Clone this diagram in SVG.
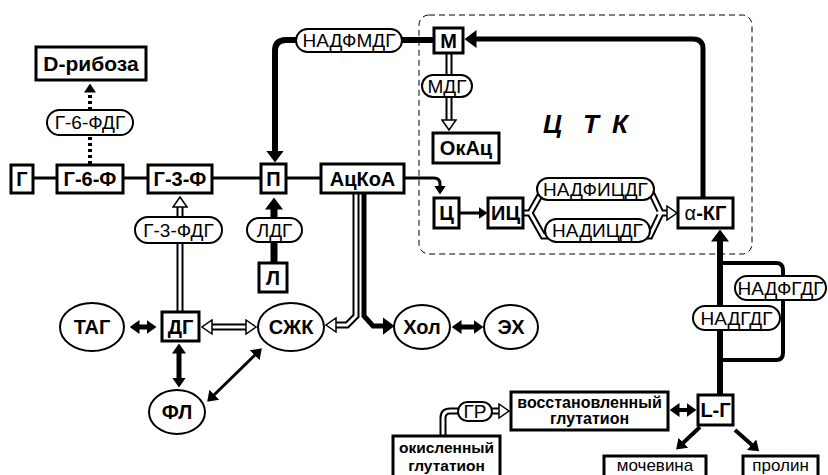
<svg xmlns="http://www.w3.org/2000/svg" width="828" height="475" viewBox="0 0 828 475">
<style>
.box{fill:#fff;stroke:#000;stroke-width:3}
.pill{fill:#fff;stroke:#000;stroke-width:2}
.ell{fill:#fff;stroke:#000;stroke-width:2}
.tb{font-family:"Liberation Sans",Arial,sans-serif;font-weight:bold;font-size:20px;text-anchor:middle;fill:#000}
.tr{font-family:"Liberation Sans",Arial,sans-serif;font-size:19px;text-anchor:middle;fill:#000}
.tq{font-family:"Liberation Sans",Arial,sans-serif;font-size:17px;text-anchor:middle;fill:#000}
.ts{font-family:"Liberation Sans",Arial,sans-serif;font-weight:bold;font-size:16px;text-anchor:middle;fill:#000}
.ln{fill:none;stroke:#000}
.dblo{fill:none;stroke:#000;stroke-width:7}
.dbli{fill:none;stroke:#fff;stroke-width:3}
.dash{fill:none;stroke:#000;stroke-width:1;stroke-dasharray:6 4}
</style>
<defs>
<marker id="big" markerUnits="userSpaceOnUse" viewBox="0 0 12 18" markerWidth="12" markerHeight="18" refX="0.5" refY="9" orient="auto-start-reverse"><path d="M0,0 L12,9 L0,18 z" fill="#000"/></marker>
<marker id="md" markerUnits="userSpaceOnUse" viewBox="0 0 10 14" markerWidth="10" markerHeight="14" refX="0.5" refY="7" orient="auto-start-reverse"><path d="M0,0 L10,7 L0,14 z" fill="#000"/></marker>
<marker id="sm" markerUnits="userSpaceOnUse" viewBox="0 0 9 12" markerWidth="9" markerHeight="12" refX="0.5" refY="6" orient="auto-start-reverse"><path d="M0,0 L9,6 L0,12 z" fill="#000"/></marker>
<marker id="open" markerUnits="userSpaceOnUse" viewBox="0 0 12 16" markerWidth="12" markerHeight="16" refX="1" refY="8" orient="auto-start-reverse"><path d="M1,1 L11,8 L1,15 z" fill="#fff" stroke="#000" stroke-width="1.5"/></marker>
</defs>
<rect width="828" height="475" fill="#fff"/>
<rect class="dash" x="419" y="15" width="333" height="239" rx="10"/>
<text x="543" y="133" style="font-family:'Liberation Sans',Arial,sans-serif;font-weight:bold;font-style:italic;font-size:26px"><tspan x="543">Ц</tspan><tspan x="583">Т</tspan><tspan x="612">К</tspan></text>
<g id="connectors">
<path class="ln" stroke-width="3" d="M33,178 H57 M123,178 H148 M212,178 H261 M286,178 H321"/>
<path class="ln" stroke-width="3" d="M404,178 H434 Q440,178 440,184 V186" marker-end="url(#sm)"/>
<path class="ln" stroke-width="3" d="M459,213 H479" marker-end="url(#sm)"/>
<path class="ln" stroke-width="5" d="M703,198 V49 Q703,39 693,39 H476" marker-end="url(#big)"/>
<path class="ln" stroke-width="6" d="M434,40 H286 Q275,40 275,51 V151" marker-end="url(#big)"/>
<path class="dblo" d="M449,53 V120"/><path class="dbli" d="M449,53 V120" marker-end="url(#open)"/>
<path class="ln" stroke-width="4" stroke-dasharray="3 3" d="M90,164 V92" marker-end="url(#sm)"/>
<path class="dblo" d="M180,311 V207"/><path class="dbli" d="M180,311 V207" marker-end="url(#open)"/>
<path class="ln" stroke-width="7" d="M274,263 V209" marker-end="url(#big)"/>
<path class="dblo" d="M356,193 V316 L347,325 H336"/><path class="dbli" d="M356,193 V316 L347,325 H336" marker-end="url(#open)"/>
<path class="ln" stroke-width="5" d="M364,193 V316 L373,326 H383" marker-end="url(#big)"/>
<path class="ln" stroke-width="5" d="M139,327 H147" marker-start="url(#md)" marker-end="url(#md)"/>
<path class="dblo" d="M212,327 H246"/><path class="dbli" d="M212,327 H246" marker-start="url(#open)" marker-end="url(#open)"/>
<path class="ln" stroke-width="5" d="M179,353 V378" marker-start="url(#md)" marker-end="url(#md)"/>
<path class="ln" stroke-width="3" d="M214,395 L255,355" marker-start="url(#md)" marker-end="url(#md)"/>
<path class="ln" stroke-width="5" d="M461,327 H474" marker-start="url(#md)" marker-end="url(#md)"/>
<path class="ln" stroke-width="6" d="M720,395 V241" marker-end="url(#big)"/>
<path class="ln" stroke-width="4" d="M720,263 H776 Q783,263 783,270 V353 Q783,360 776,360 H720"/>
<path class="ln" stroke-width="4" d="M700,427 L683,443" marker-end="url(#md)"/>
<path class="ln" stroke-width="4" d="M735,430 L752,445" marker-end="url(#md)"/>
<path class="ln" stroke-width="4" d="M679,410 H687" marker-start="url(#md)" marker-end="url(#md)"/>
<path class="dblo" d="M443,436 V418 Q443,411 450,411 H499"/><path class="dbli" d="M443,436 V418 Q443,411 450,411 H499" marker-end="url(#open)"/>
<path class="dblo" d="M523,213 H530 L543,190 H650 L661,213 M530,213 L543,236 H650 L661,213 H667"/>
<path class="dbli" d="M523,213 H530 L543,190 H650 L661,213 M530,213 L543,236 H650 L661,213"/>
<path class="dbli" d="M657,213 H667" marker-end="url(#open)"/>
</g>
<g id="n-g"><rect class="box" x="11" y="165" width="22" height="28"/><text class="tb" x="22" y="186">Г</text></g>
<g id="n-g6f"><rect class="box" x="57" y="165" width="66" height="28"/><text class="tb" x="90" y="186">Г-6-Ф</text></g>
<g id="n-g3f"><rect class="box" x="148" y="165" width="64" height="28"/><text class="tb" x="180" y="186">Г-3-Ф</text></g>
<g id="n-p"><rect class="box" x="261" y="164" width="25" height="29"/><text class="tb" x="273.5" y="186">П</text></g>
<g id="n-acoa"><rect class="box" x="321" y="164" width="83" height="29"/><text class="tb" x="362.5" y="186">АцКоА</text></g>
<g id="n-drib"><rect class="box" x="36" y="47" width="110" height="33"/><text class="tb" x="91" y="71" style="font-size:21px">D-рибоза</text></g>
<g id="n-g6fdg"><rect class="pill" x="47" y="110" width="86" height="25" rx="12.5"/><text class="tr" x="90" y="129">Г-6-ФДГ</text></g>
<g id="n-nadfmdg"><rect class="pill" x="296" y="29" width="106" height="23" rx="11.5"/><text class="tr" x="349" y="47">НАДФМДГ</text></g>
<g id="n-m"><rect class="box" x="434" y="28" width="29" height="25"/><text class="tb" x="448.5" y="48">М</text></g>
<g id="n-mdg"><rect class="pill" x="422" y="75" width="50" height="22" rx="11"/><text class="tr" x="447" y="93">МДГ</text></g>
<g id="n-okac"><rect class="box" x="433" y="133" width="66" height="30"/><text class="tb" x="466" y="155">ОкАц</text></g>
<g id="n-c"><rect class="box" x="434" y="198" width="25" height="30"/><text class="tb" x="446.5" y="220">Ц</text></g>
<g id="n-ic"><rect class="box" x="488" y="198" width="35" height="30"/><text class="tb" x="505.5" y="220">ИЦ</text></g>
<g id="n-nadficdg"><rect class="pill" x="537" y="178" width="117" height="22" rx="11"/><text class="tr" x="595.5" y="196">НАДФИЦДГ</text></g>
<g id="n-nadicdg"><rect class="pill" x="545" y="219" width="105" height="23" rx="11.5"/><text class="tr" x="597.5" y="237">НАДИЦДГ</text></g>
<g id="n-akg"><rect class="box" x="678" y="198" width="55" height="30"/><text class="tb" x="705.5" y="220"><tspan font-weight="normal">α</tspan>-КГ</text></g>
<g id="n-g3fdg"><rect class="pill" x="135" y="217" width="87" height="26" rx="13"/><text class="tr" x="178.5" y="237">Г-3-ФДГ</text></g>
<g id="n-ldg"><rect class="pill" x="247" y="218" width="55" height="24" rx="12"/><text class="tr" x="274.5" y="237">ЛДГ</text></g>
<g id="n-l"><rect class="box" x="259" y="263" width="28" height="29"/><text class="tb" x="273" y="285">Л</text></g>
<g id="n-tag"><ellipse class="ell" cx="92" cy="327" rx="32" ry="24"/><text class="tb" x="92" y="334">ТАГ</text></g>
<g id="n-dg"><rect class="box" x="162" y="312" width="37" height="29"/><text class="tb" x="180.5" y="334">ДГ</text></g>
<g id="n-szhk"><ellipse class="ell" cx="291" cy="327" rx="33" ry="24"/><text class="tb" x="291" y="334">СЖК</text></g>
<g id="n-fl"><ellipse class="ell" cx="177" cy="412" rx="28" ry="22"/><text class="tb" x="177" y="419">ФЛ</text></g>
<g id="n-hol"><ellipse class="ell" cx="422" cy="327" rx="28" ry="22"/><text class="tb" x="422" y="334">Хол</text></g>
<g id="n-eh"><ellipse class="ell" cx="511" cy="327" rx="27" ry="22"/><text class="tb" x="511" y="334">ЭХ</text></g>
<g id="n-nadfgdg"><rect class="pill" x="735" y="276" width="91" height="24" rx="12"/><text class="tr" x="780.5" y="295">НАДФГДГ</text></g>
<g id="n-nadgdg"><rect class="pill" x="693" y="306" width="87" height="24" rx="12"/><text class="tr" x="736.5" y="325">НАДГДГ</text></g>
<g id="n-lg"><rect class="box" x="698" y="395" width="35" height="30"/><text class="tb" x="715.5" y="417">L-Г</text></g>
<g id="n-vosst"><rect class="box" x="511" y="392" width="157" height="38"/><text class="ts" x="589.5" y="408">восстановленный</text><text class="ts" x="589.5" y="424">глутатион</text></g>
<g id="n-okisl"><rect class="box" x="393" y="436" width="107" height="45"/><text class="ts" x="446.5" y="453" style="font-size:15.5px">окисленный</text><text class="ts" x="446.5" y="471" style="font-size:15.5px">глутатион</text></g>
<g id="n-gr"><rect class="pill" x="458" y="402" width="34" height="19" rx="9.5"/><text class="tr" x="475" y="418">ГР</text></g>
<g id="n-moch"><rect class="box" x="604" y="456" width="102" height="25"/><text class="tq" x="655" y="471">мочевина</text></g>
<g id="n-prolin"><rect class="box" x="743" y="456" width="75" height="25"/><text class="tq" x="780.5" y="471">пролин</text></g>
</svg>
